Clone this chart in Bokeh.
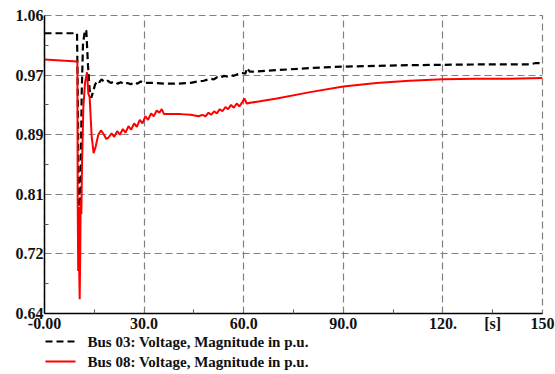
from bokeh.plotting import figure
from bokeh.models import FixedTicker, Range1d
from bokeh.core.properties import value
from bokeh.layouts import column
from bokeh.embed import file_html
from bokeh.resources import INLINE

# ---- data ----
t_bus03 = [0, 9.8, 10.0, 10.3, 10.6, 10.9, 11.2, 11.6, 12.2, 12.6, 13.1, 13.6, 14.1, 14.6,
           15.2, 15.8, 16.5, 17.2, 18.0, 19.0, 20.0, 21.0, 22.0, 23.0, 24.0, 25.0, 26.0,
           27.0, 28.0, 29.0, 30.0, 33.0, 36.0, 40.0, 44.0, 46.0, 48.0, 50.0, 51.0, 52.0,
           53.0, 54.0, 55.0, 56.0, 57.0, 58.0, 59.5, 60.5, 61.0, 61.8, 63.0, 70.0, 80.0,
           90.0, 100.0, 110.0, 120.0, 130.0, 140.0, 146.0, 148.0, 150.0]
v_bus03 = [1.035, 1.035, 0.96, 0.80, 0.79, 0.82, 0.95, 1.02, 1.04, 1.038, 0.99, 0.955, 0.944, 0.952,
           0.962, 0.968, 0.966, 0.970, 0.966, 0.968, 0.965, 0.967, 0.964, 0.966, 0.963, 0.965, 0.963,
           0.966, 0.964, 0.967, 0.965, 0.965, 0.964, 0.964, 0.965, 0.967, 0.968, 0.971, 0.970, 0.973,
           0.972, 0.975, 0.974, 0.976, 0.975, 0.977, 0.979, 0.978, 0.986, 0.981, 0.981, 0.983, 0.986,
           0.988, 0.989, 0.990, 0.9905, 0.991, 0.991, 0.991, 0.993, 0.993]

t_bus08 = [0, 9.9, 10.0, 10.15, 10.3, 10.45, 10.6, 10.75, 10.9, 11.1, 11.3, 11.7, 12.2, 12.8,
           13.2, 13.6, 14.2, 14.8, 15.4, 16.2, 17.0, 17.8, 18.6, 19.3, 20.2, 21.0, 21.9,
           22.7, 23.6, 24.4, 25.3, 26.1, 27.0, 27.8, 28.7, 29.5, 30.4, 31.2, 32.1, 32.9,
           33.8, 34.6, 35.3, 36.0, 38.0, 41.0, 44.0, 46.5, 47.5, 48.5, 49.4, 50.2, 51.1,
           51.9, 52.8, 53.6, 54.5, 55.3, 56.2, 57.0, 57.9, 58.7, 59.6, 60.2, 60.9, 62.0,
           70.0, 80.0, 90.0, 100.0, 110.0, 120.0, 130.0, 140.0, 150.0]
v_bus08 = [0.998, 0.995, 0.80, 0.70, 0.79, 0.70, 0.66, 0.72, 0.80, 0.78, 0.85, 0.93, 0.965, 0.98,
           0.95, 0.945, 0.89, 0.866, 0.875, 0.892, 0.898, 0.893, 0.886, 0.888, 0.894, 0.889, 0.897,
           0.892, 0.900, 0.895, 0.904, 0.899, 0.908, 0.903, 0.913, 0.908, 0.918, 0.913, 0.922, 0.918,
           0.926, 0.923, 0.928, 0.921, 0.921, 0.921, 0.920, 0.918, 0.920, 0.918, 0.923, 0.920, 0.925,
           0.922, 0.928, 0.925, 0.931, 0.928, 0.934, 0.930, 0.936, 0.932, 0.938, 0.943, 0.936, 0.937,
           0.943, 0.952, 0.960, 0.965, 0.968, 0.970, 0.971, 0.971, 0.972]

y_ticks = [0.64, 0.724, 0.808, 0.892, 0.976, 1.06]
y_labels = ["0.64", "0.72", "0.81", "0.89", "0.97", "1.06"]
x_ticks = [0, 30, 60, 90, 120, 135, 150]
x_labels = ["-0.00", "30.0", "60.0", "90.0", "120.", "[s]", "150"]
series_names = ["Bus 03: Voltage, Magnitude in p.u.", "Bus 08: Voltage, Magnitude in p.u."]

FONT = "Liberation Serif"
BUS03_STYLE = dict(line_color="black", line_width=2.2, line_dash="7 4")
BUS08_STYLE = dict(line_color="#ff0000", line_width=2)

p = figure(width=555, height=334, output_backend="svg", toolbar_location=None,
           x_range=Range1d(0, 150), y_range=Range1d(0.64, 1.06),
           min_border_left=44, min_border_right=13, min_border_top=15, min_border_bottom=20)
p.outline_line_color = "#808080"
p.outline_line_dash = "7 4"
p.outline_line_width = 1.2
p.background_fill_color = "white"

# axes
for ax in (p.xaxis[0], p.yaxis[0]):
    ax.axis_line_color = "black"
    ax.axis_line_width = 1.5
    ax.major_tick_in = 0
    ax.major_tick_out = 0
    ax.minor_tick_in = 4
    ax.minor_tick_out = 0
    ax.minor_tick_line_color = "#555555"
    ax.major_label_text_font = FONT
    ax.major_label_text_font_style = "bold"
    ax.major_label_text_font_size = "16px"
    ax.major_label_text_color = "#111111"

p.yaxis[0].ticker = FixedTicker(ticks=y_ticks,
                                minor_ticks=[(a + b) / 2 for a, b in zip(y_ticks[:-1], y_ticks[1:])])
p.yaxis[0].major_label_overrides = {k: v for k, v in zip(y_ticks, y_labels)}
p.yaxis[0].major_label_standoff = 1

p.xaxis[0].ticker = FixedTicker(ticks=x_ticks, minor_ticks=[15, 45, 75, 105, 135])
p.xaxis[0].major_label_overrides = {k: v for k, v in zip(x_ticks, x_labels)}
p.xaxis[0].major_label_standoff = 1

# grid
p.xgrid.ticker = FixedTicker(ticks=[30, 60, 90, 120, 150])
p.ygrid.ticker = FixedTicker(ticks=y_ticks[1:])
for g in (p.xgrid[0], p.ygrid[0]):
    g.grid_line_color = "#808080"
    g.grid_line_dash = "7 4"
    g.grid_line_width = 1.2

# lines
p.line(t_bus03, v_bus03, **BUS03_STYLE)
p.line(t_bus08, v_bus08, **BUS08_STYLE)

# legend strip below the plot (its frame is aligned with the main frame: pixels 44..542)
lf = figure(width=555, height=40, output_backend="svg", toolbar_location=None,
            x_range=Range1d(44, 542), y_range=Range1d(0, 40),
            x_axis_location=None, y_axis_location=None,
            min_border_left=0, min_border_right=0, min_border_top=0, min_border_bottom=0)
lf.grid.visible = False
lf.outline_line_color = None
row_y = [33, 13]
styles = [BUS03_STYLE, BUS08_STYLE]
for name, yy, st in zip(series_names, row_y, styles):
    lf.line([45, 75], [yy, yy], **st)
    lf.text([87], [yy], text=[name], text_font=value(FONT), text_font_style="bold",
            text_font_size="15px", text_baseline="middle", text_align="left",
            text_color="#111111")

layout = column(p, lf, spacing=0)
open("out.html", "w").write(file_html(layout, INLINE))
